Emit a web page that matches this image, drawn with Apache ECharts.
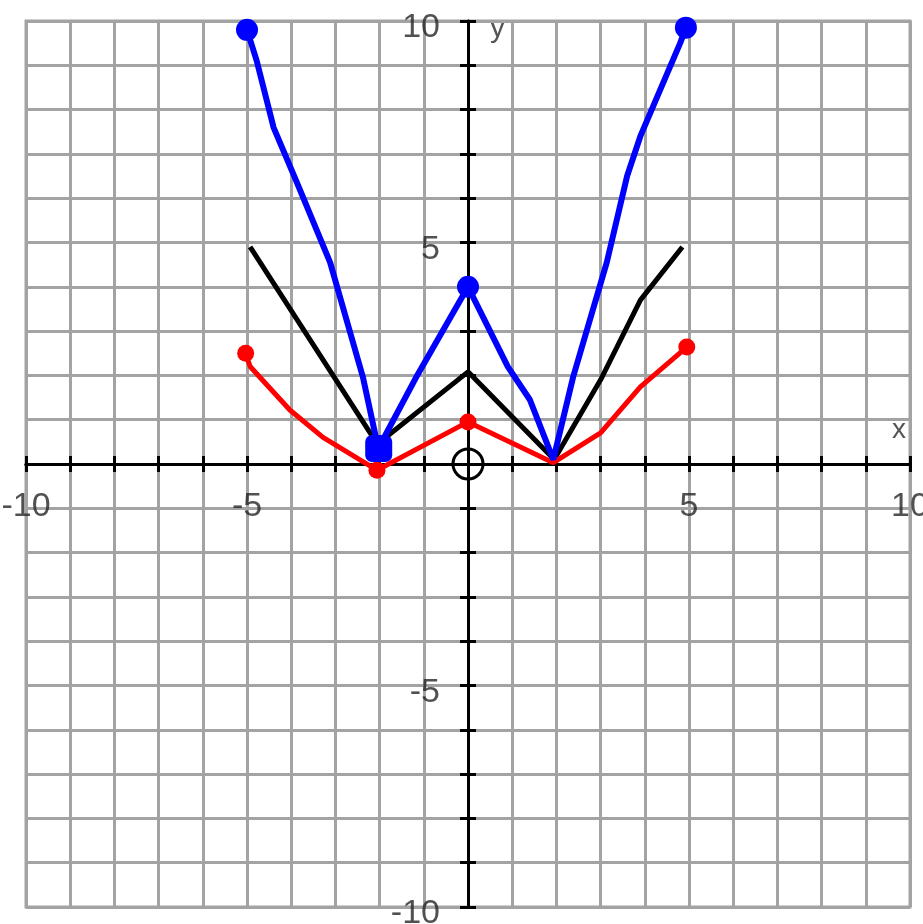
<!DOCTYPE html>
<html>
<head>
<meta charset="utf-8">
<script src="https://cdn.jsdelivr.net/npm/echarts@6/dist/echarts.min.js"></script>
<style>
  html, body { margin: 0; padding: 0; background: #fff; }
  #chart { width: 923px; height: 924px; }
</style>
</head>
<body>
<div id="chart"></div>
<script>
// values (x, y pairs)
const blackPts = [[-4.93, 4.9], [-2.05, 0.45], [0, 2.08], [1.95, 0.1], [3, 1.9], [3.9, 3.7], [4.85, 4.9]];
const bluePts = [[-5, 9.8], [-4.78, 9.1], [-4.4, 7.6], [-3.87, 6.35], [-3.12, 4.55], [-2.38, 1.97], [-2.03, 0.35],
  [-1.15, 2.0], [0, 4], [0.9, 2.2], [1.4, 1.45], [1.93, 0.1], [2.38, 1.97], [3.14, 4.55], [3.6, 6.5],
  [3.9, 7.4], [4.8, 9.5], [4.93, 9.85]];
const redPts = [[-5.03, 2.5], [-4.93, 2.2], [-4.03, 1.22], [-3.28, 0.6], [-2.06, -0.14], [0, 0.95],
  [1.93, 0.03], [3, 0.7], [3.9, 1.74], [4.95, 2.64]];
const blueDots = [[-5, 9.8], [0, 4], [4.93, 9.85]];
const blueBigDots = [[-2.02, 0.35]];
const redDots = [[-5.03, 2.5], [-2.06, -0.14], [0, 0.95], [4.95, 2.64]];
const origin = [[0, 0]];
const labelTicks = [-10, -5, 5, 10];

const chart = echarts.init(document.getElementById("chart"));

const gridColor = "#a3a3a3";
const labelFont = { fontFamily: "Liberation Sans", fontSize: 34, color: "#262626" };

// two axes per direction, both on zero, ticks pointing opposite ways -> crossing ticks
function axisPair(isX) {
  return [
    {
      type: "value", min: -10, max: 10, interval: 1, position: isX ? "bottom" : "left",
      axisLine: { onZero: true, onZeroAxisIndex: 0, lineStyle: { color: "#000", width: 3 } },
      axisTick: { length: 8, lineStyle: { color: "#000", width: 3 } },
      axisLabel: { show: false },
      splitLine: { lineStyle: { color: gridColor, width: 3 } }
    },
    {
      type: "value", min: -10, max: 10, interval: 1, position: isX ? "top" : "right",
      axisLine: { onZero: true, onZeroAxisIndex: 0, lineStyle: { color: "#000", width: 3 } },
      axisTick: { length: 8, lineStyle: { color: "#000", width: 3 } },
      axisLabel: { show: false },
      splitLine: { show: false }
    }
  ];
}

const option = {
  animation: false,
  backgroundColor: "#fff",
  grid: {
    left: 26, top: 21, width: 884, height: 886,
    outerBoundsMode: "none", containLabel: false,
    show: true, borderColor: gridColor, borderWidth: 3
  },
  xAxis: axisPair(true),
  yAxis: axisPair(false),
  graphic: [
    { type: "text", left: 490, top: 14, style: { text: "y", font: "30px Liberation Sans", fill: "#555" } },
    { type: "text", left: 892, top: 416, style: { text: "x", font: "28px Liberation Sans", fill: "#555" } }
  ],
  series: [
    {
      type: "line", data: blackPts, showSymbol: false,
      lineStyle: { color: "#000", width: 5 }, z: 3
    },
    {
      type: "line", data: redPts, showSymbol: false,
      lineStyle: { color: "#ff0000", width: 5 }, z: 4
    },
    {
      type: "line", data: bluePts, showSymbol: false,
      lineStyle: { color: "#0000ff", width: 6 }, z: 5
    },
    {
      type: "scatter", data: redDots, symbolSize: 17,
      itemStyle: { color: "#ff0000", opacity: 1 }, z: 6
    },
    {
      type: "scatter", data: blueDots, symbolSize: 22,
      itemStyle: { color: "#0000ff", opacity: 1 }, z: 7
    },
    {
      type: "scatter", data: blueBigDots, symbol: "roundRect", symbolSize: 27,
      itemStyle: { color: "#0000ff", opacity: 1 }, z: 7
    },
    {
      type: "scatter", data: origin, symbol: "circle", symbolSize: 30,
      itemStyle: { color: "rgba(0,0,0,0)", borderColor: "#000", borderWidth: 3, opacity: 1 }, z: 2
    },
    // tick labels on the x axis
    {
      type: "scatter", data: labelTicks.map(v => [v, 0]), symbolSize: 0, silent: true, z: 8,
      label: Object.assign({
        show: true, position: "bottom", distance: 26,
        formatter: p => String(p.value[0])
      }, labelFont)
    },
    // tick labels on the y axis
    {
      type: "scatter", data: labelTicks.map(v => [0, v]), symbolSize: 0, silent: true, z: 8,
      label: Object.assign({
        show: true, position: "left", distance: 28, offset: [0, 7],
        formatter: p => String(p.value[1])
      }, labelFont)
    }
  ]
};

chart.setOption(option);
</script>
</body>
</html>
